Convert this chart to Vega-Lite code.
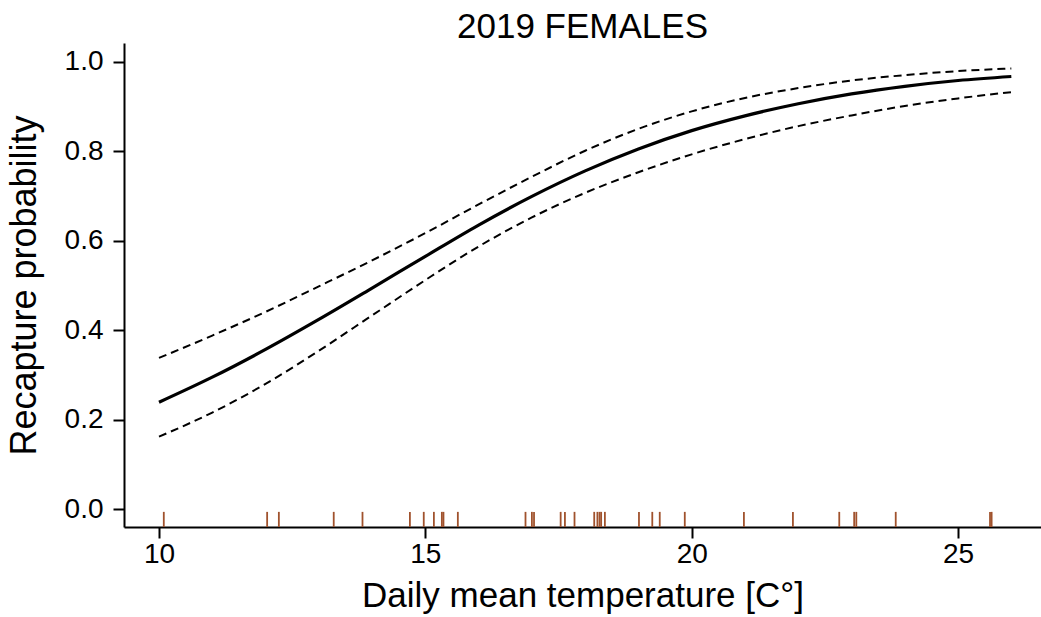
{
  "$schema": "https://vega.github.io/schema/vega-lite/v6.json",
  "width": 917,
  "height": 484,
  "autosize": {"type": "none"},
  "padding": {"left": 124, "top": 43, "right": 0, "bottom": 90},
  "background": "white",
  "title": {"text": "2019 FEMALES", "fontSize": 35, "fontWeight": "normal", "font": "Liberation Sans", "color": "black", "anchor": "middle", "offset": -2},
  "config": {
    "view": {"stroke": null},
    "axis": {
      "grid": false, "domainColor": "black", "domainWidth": 2, "tickColor": "black", "tickWidth": 2, "tickSize": 11,
      "labelFont": "Liberation Sans", "labelFontSize": 28, "labelColor": "black",
      "titleFont": "Liberation Sans", "titleFontSize": 35, "titleFontWeight": "normal", "titleColor": "black"
    }
  },
  "datasets": {
    "curve": [
      {"temp": 10, "fit": 0.239, "lwr": 0.162, "upr": 0.338},
      {"temp": 11, "fit": 0.295, "lwr": 0.216, "upr": 0.388},
      {"temp": 12, "fit": 0.357, "lwr": 0.280, "upr": 0.441},
      {"temp": 13, "fit": 0.424, "lwr": 0.354, "upr": 0.498},
      {"temp": 14, "fit": 0.494, "lwr": 0.433, "upr": 0.556},
      {"temp": 15, "fit": 0.565, "lwr": 0.512, "upr": 0.617},
      {"temp": 16, "fit": 0.635, "lwr": 0.587, "upr": 0.681},
      {"temp": 17, "fit": 0.699, "lwr": 0.652, "upr": 0.743},
      {"temp": 18, "fit": 0.756, "lwr": 0.707, "upr": 0.801},
      {"temp": 19, "fit": 0.805, "lwr": 0.753, "upr": 0.850},
      {"temp": 20, "fit": 0.846, "lwr": 0.793, "upr": 0.889},
      {"temp": 21, "fit": 0.879, "lwr": 0.827, "upr": 0.919},
      {"temp": 22, "fit": 0.906, "lwr": 0.856, "upr": 0.941},
      {"temp": 23, "fit": 0.928, "lwr": 0.880, "upr": 0.958},
      {"temp": 24, "fit": 0.945, "lwr": 0.901, "upr": 0.970},
      {"temp": 25, "fit": 0.958, "lwr": 0.918, "upr": 0.979},
      {"temp": 26, "fit": 0.967, "lwr": 0.932, "upr": 0.985}
    ],
    "rug": [
      {"temp": 10.09}, {"temp": 12.03}, {"temp": 12.25}, {"temp": 13.28}, {"temp": 13.82},
      {"temp": 14.71}, {"temp": 14.97}, {"temp": 15.16}, {"temp": 15.31}, {"temp": 15.34},
      {"temp": 15.61}, {"temp": 16.88}, {"temp": 17.00}, {"temp": 17.04}, {"temp": 17.54},
      {"temp": 17.62}, {"temp": 17.80}, {"temp": 18.17}, {"temp": 18.23}, {"temp": 18.27},
      {"temp": 18.30}, {"temp": 18.37}, {"temp": 19.01}, {"temp": 19.26}, {"temp": 19.40},
      {"temp": 19.87}, {"temp": 20.98}, {"temp": 21.90}, {"temp": 22.77}, {"temp": 23.05},
      {"temp": 23.09}, {"temp": 23.83}, {"temp": 25.60}, {"temp": 25.63}
    ]
  },
  "layer": [
    {
      "data": {"name": "curve"},
      "mark": {"type": "line", "color": "black", "strokeWidth": 2, "strokeDash": [8, 5], "interpolate": "monotone"},
      "encoding": {
        "x": {"field": "temp", "type": "quantitative",
              "scale": {"domain": [9.343, 26.557], "nice": false, "zero": false},
              "axis": {"values": [10, 15, 20, 25], "title": "Daily mean temperature [C°]", "labelPadding": 2, "titlePadding": 10}},
        "y": {"field": "upr", "type": "quantitative",
              "scale": {"domain": [-0.0398, 1.0418], "nice": false, "zero": false},
              "axis": {"values": [0, 0.2, 0.4, 0.6, 0.8, 1.0], "format": ".1f", "title": "Recapture probability", "titleFontSize": 36, "labelPadding": 10, "titlePadding": 21}}
      }
    },
    {
      "data": {"name": "curve"},
      "mark": {"type": "line", "color": "black", "strokeWidth": 2, "strokeDash": [8, 5], "interpolate": "monotone"},
      "encoding": {
        "x": {"field": "temp", "type": "quantitative"},
        "y": {"field": "lwr", "type": "quantitative"}
      }
    },
    {
      "data": {"name": "curve"},
      "mark": {"type": "line", "color": "black", "strokeWidth": 3.2, "interpolate": "monotone"},
      "encoding": {
        "x": {"field": "temp", "type": "quantitative"},
        "y": {"field": "fit", "type": "quantitative"}
      }
    },
    {
      "data": {"name": "rug"},
      "mark": {"type": "rule", "color": "#A0522D", "strokeWidth": 1.8},
      "encoding": {
        "x": {"field": "temp", "type": "quantitative"},
        "y": {"datum": -0.0398},
        "y2": {"datum": -0.006}
      }
    }
  ]
}
